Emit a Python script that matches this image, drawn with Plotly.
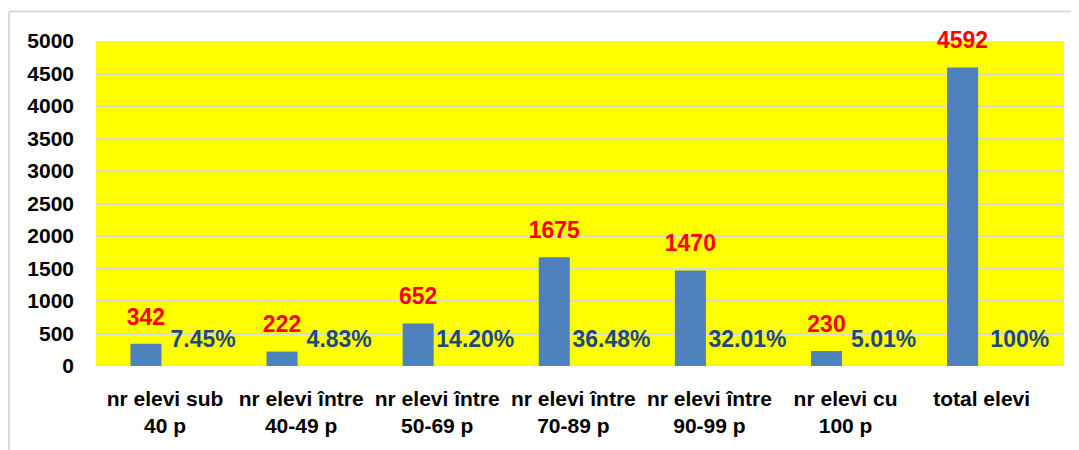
import plotly.graph_objects as go

# ---- data ----
categories = [
    "nr elevi sub<br>40 p",
    "nr elevi între<br>40-49 p",
    "nr elevi între<br>50-69 p",
    "nr elevi între<br>70-89 p",
    "nr elevi între<br>90-99 p",
    "nr elevi cu<br>100 p",
    "total elevi",
]
counts = [342, 222, 652, 1675, 1470, 230, 4592]
percents = [7.45, 4.83, 14.20, 36.48, 32.01, 5.01, 100]
percent_labels = ["7.45%", "4.83%", "14.20%", "36.48%", "32.01%", "5.01%", "100%"]
y_ticks = [0, 500, 1000, 1500, 2000, 2500, 3000, 3500, 4000, 4500, 5000]

# ---- styling / layout constants ----
FONT = "Liberation Sans"
BAR_COLOR = "#4F81BD"
RED = "#FF0000"
PCT_COLOR = "#1F497D"
GRID = "#D9D9D9"

idx = list(range(len(categories)))
bar_w = 0.228
bar_center = -0.14    # bar centre relative to category slot
pct_center = 0.28     # percent label centre relative to category slot

fig = go.Figure()

fig.add_trace(go.Bar(
    x=idx, y=counts,
    width=bar_w, offset=bar_center - bar_w / 2,
    marker=dict(color=BAR_COLOR, line=dict(width=0)),
    hoverinfo="skip", showlegend=False,
))

# counts labels (red) above bars
fig.add_trace(go.Scatter(
    x=[i + bar_center for i in idx], y=counts,
    mode="markers+text",
    text=[str(c) for c in counts],
    textposition="top center",
    marker=dict(size=20, opacity=0),
    textfont=dict(family=FONT, size=23, color=RED, weight="bold"),
    cliponaxis=False, hoverinfo="skip", showlegend=False,
))

# percent series (tiny values on the same axis), labels shown
fig.add_trace(go.Scatter(
    x=[i + pct_center for i in idx], y=[p / 100 for p in percents],
    mode="markers+text",
    text=percent_labels,
    textposition="top center",
    marker=dict(size=19, opacity=0),
    textfont=dict(family=FONT, size=23, color=PCT_COLOR, weight="bold"),
    cliponaxis=False, hoverinfo="skip", showlegend=False,
))

# page body has an 8px margin, so the figure is sized/offset to compensate
fig.update_layout(
    width=1071, height=442,
    margin=dict(l=88, r=15, t=33, b=84),
    paper_bgcolor="white",
    plot_bgcolor="#FFFF00",
    showlegend=False,
    xaxis=dict(
        range=[-0.507, 6.605],
        tickmode="array", tickvals=idx, ticktext=categories,
        showgrid=False, zeroline=False, showline=False, ticks="",
        tickfont=dict(family=FONT, size=21, color="#000000", weight="bold"),
        ticklabelstandoff=18,
        fixedrange=True,
    ),
    yaxis=dict(
        range=[0, 5000],
        tickmode="array", tickvals=y_ticks,
        showgrid=True, gridcolor=GRID, gridwidth=2,
        zeroline=False, showline=False, ticks="",
        tickfont=dict(family=FONT, size=21, color="#000000", weight="bold"),
        ticklabelstandoff=21,
        fixedrange=True,
    ),
    shapes=[
        dict(type="line", xref="paper", yref="paper",
             x0=-0.0899, x1=1.03, y0=1.0908, y1=1.0908,
             line=dict(color=GRID, width=2)),
        dict(type="line", xref="paper", yref="paper",
             x0=-0.0899, x1=-0.0899, y0=1.0908, y1=-0.3,
             line=dict(color=GRID, width=2)),
    ],
)

fig.write_html("out.html")
